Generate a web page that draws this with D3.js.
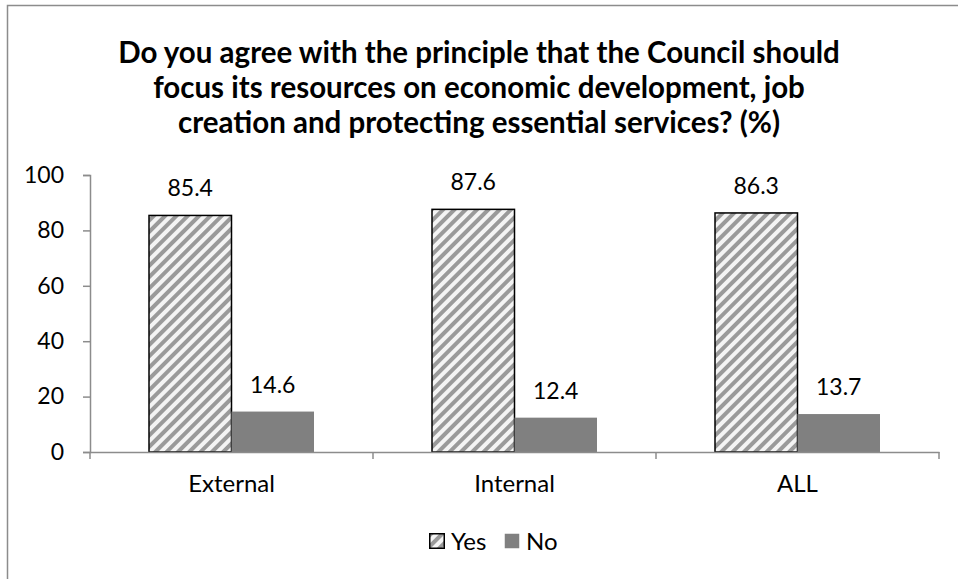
<!DOCTYPE html>
<html><head><meta charset="utf-8">
<script src="https://cdn.jsdelivr.net/npm/d3@7"></script>
<style>body{margin:0;background:#fff;} svg{display:block;}</style>
</head><body>
<svg id="chart" width="958" height="579"></svg>
<script>
const categories = ["External", "Internal", "ALL"];
const seriesNames = ["Yes", "No"];
const yesValues = [85.4, 87.6, 86.3];
const noValues = [14.6, 12.4, 13.7];
const yTicks = [0, 20, 40, 60, 80, 100];
const titleLines = [
  "Do you agree with the principle that the Council should",
  "focus its resources on economic development, job",
  "creation and protecting essential services? (%)"
];

const FONT = "Lato, 'Open Sans', sans-serif";
const svg = d3.select("#chart");
const W = 958, H = 579;
const m = {left: 90, right: 19, top: 175, bottom: 127};
const plotW = W - m.left - m.right, plotH = H - m.top - m.bottom;

const defs = svg.append("defs");
const pat = defs.append("pattern").attr("id", "hatch").attr("patternUnits", "userSpaceOnUse")
  .attr("width", 8).attr("height", 8).attr("patternTransform", "rotate(45)");
pat.append("rect").attr("width", 8).attr("height", 8).attr("fill", "#f4f4f4");
pat.append("rect").attr("x", 0).attr("width", 4).attr("height", 8).attr("fill", "#9a9a9a");

// outer border
svg.append("rect").attr("x", 7.5).attr("y", 5.5).attr("width", W + 10).attr("height", H + 10)
  .attr("fill", "none").attr("stroke", "#8c8c8c").attr("stroke-width", 1.5);

// title
const t = svg.append("text").attr("text-anchor", "middle").attr("font-family", FONT)
  .attr("font-weight", "bold").attr("font-size", 29.5).attr("fill", "#000");
titleLines.forEach((l, i) => t.append("tspan").attr("x", 479).attr("y", 63 + i * 35).text(l));

const g = svg.append("g").attr("transform", `translate(${m.left},${m.top})`);
const x0 = d3.scaleBand().domain(categories).range([0, plotW]).paddingInner(0).paddingOuter(0);
const x1 = d3.scaleBand().domain(seriesNames).range([x0.bandwidth() * 0.2085, x0.bandwidth() * 0.7915]);
const y = d3.scaleLinear().domain([0, 100]).range([plotH, 0]);

const data = categories.map((c, i) => ({cat: c, vals: [{s: "Yes", v: yesValues[i]}, {s: "No", v: noValues[i]}]}));

const grp = g.selectAll(".cat").data(data).join("g").attr("transform", d => `translate(${x0(d.cat)},0)`);
grp.selectAll("rect").data(d => d.vals).join("rect")
  .attr("x", d => x1(d.s)).attr("width", x1.bandwidth())
  .attr("y", d => y(d.v)).attr("height", d => y(0) - y(d.v))
  .attr("fill", d => d.s === "Yes" ? "url(#hatch)" : "#808080")
  .attr("stroke", d => d.s === "Yes" ? "#000" : "none").attr("stroke-width", 1.5);
grp.selectAll("text.val").data(d => d.vals).join("text").attr("class", "val")
  .attr("x", d => x1(d.s) + x1.bandwidth() / 2).attr("y", d => y(d.v) - 19)
  .attr("text-anchor", "middle").attr("font-family", FONT).attr("font-size", 23).attr("fill", "#000")
  .text(d => d.v.toFixed(1));

// y axis
const yAxis = g.append("g").call(d3.axisLeft(y).tickValues(yTicks).tickSize(7).tickPadding(19));
yAxis.select(".domain").attr("stroke", "#8c8c8c").attr("stroke-width", 1.5);
yAxis.selectAll(".tick line").attr("stroke", "#8c8c8c").attr("stroke-width", 1.5);
yAxis.selectAll(".tick text").attr("font-family", FONT).attr("font-size", 23).attr("fill", "#000");

// x axis
const xAxis = g.append("g").attr("transform", `translate(0,${plotH})`)
  .call(d3.axisBottom(x0).tickSize(0).tickPadding(23));
xAxis.select(".domain").attr("stroke", "#8c8c8c").attr("stroke-width", 1.5);
xAxis.selectAll(".tick text").attr("font-family", FONT).attr("font-size", 24).attr("fill", "#000");
// category boundary ticks
g.append("g").selectAll("line").data(d3.range(categories.length + 1)).join("line")
  .attr("x1", i => i * x0.bandwidth()).attr("x2", i => i * x0.bandwidth())
  .attr("y1", plotH).attr("y2", plotH + 7).attr("stroke", "#8c8c8c").attr("stroke-width", 1.5);

// legend
const lg = svg.append("g").attr("transform", "translate(429,533)");
const items = [{s: "Yes", x: 0}, {s: "No", x: 75}];
items.forEach(it => {
  lg.append("rect").attr("x", it.x + 0.75).attr("y", 0.75).attr("width", 14.5).attr("height", 14.5)
    .attr("fill", it.s === "Yes" ? "url(#hatch)" : "#808080")
    .attr("stroke", it.s === "Yes" ? "#000" : "none").attr("stroke-width", 1.5);
  lg.append("text").attr("x", it.x + 22).attr("y", 16.5).attr("font-family", FONT)
    .attr("font-size", 24).attr("fill", "#000").text(it.s);
});
</script>
</body></html>
